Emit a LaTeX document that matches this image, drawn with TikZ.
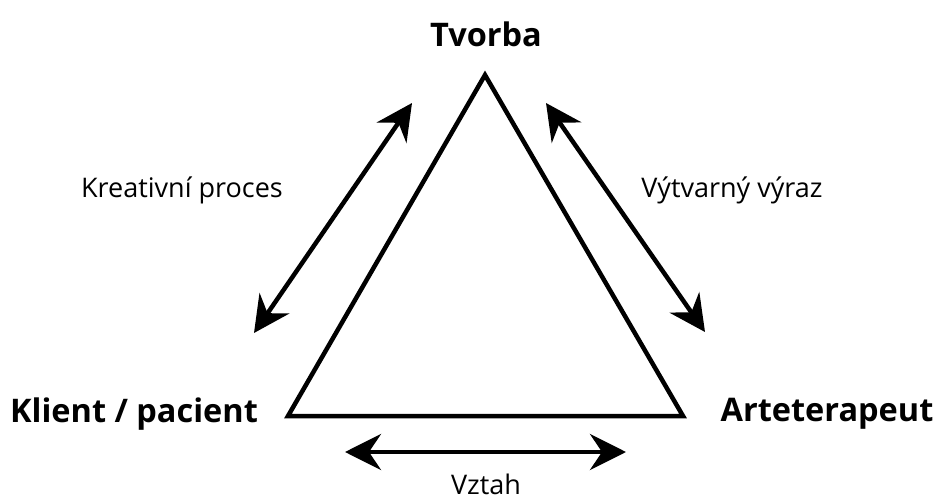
\documentclass[tikz,border=0pt]{standalone}
\usepackage{fontspec}
\setmainfont{Open Sans}
\usetikzlibrary{arrows.meta,positioning}

\begin{document}
\begin{tikzpicture}[x=1pt,y=-1pt,>={Stealth[length=36pt,width=36pt,inset=12pt]},
                    line width=4.5pt]
\tikzset{corner/.style={font=\fontsize{32.5pt}{36pt}\bfseries\selectfont,inner sep=0pt}}
\tikzset{edgelabel/.style={font=\fontsize{27pt}{30pt}\selectfont,inner sep=0pt}}
\tikzset{twoway/.style={<->,line width=4.5pt}}

        \useasboundingbox (0,0) rectangle (940,500);

        % triangle
        \coordinate (T) at (485,75);
        \coordinate (K) at (288,416);
        \coordinate (A) at (683,416);
        \draw[line join=miter] (T) -- (K) -- (A) -- cycle;

        \node[corner]                (tvorba) at (486,34)  {Tvorba};
        \node[corner]                (klient) at (134,414) {Klient / pacient};
        \node[corner]                (arte)   at (827,414) {Arteterapeut};

        % arrows
        \coordinate (l1) at (254,333);
        \coordinate (l2) at (412,103);
        \coordinate (r1) at (546,103);
        \coordinate (r2) at (705,332);
        \coordinate (b1) at (345,452);
        \coordinate (b2) at (626,452);

        \draw[twoway] (l1) -- (l2);
        \draw[twoway] (r1) -- (r2);
        \draw[twoway] (b1) -- (b2);

        \node[edgelabel]             (proces) at (182,190) {Kreativní proces};
        \node[edgelabel]             (vyraz)  at (732,190) {Výtvarný výraz};
        \node[edgelabel]             (vztah)  at (486,484) {Vztah};

\end{tikzpicture}
\end{document}
